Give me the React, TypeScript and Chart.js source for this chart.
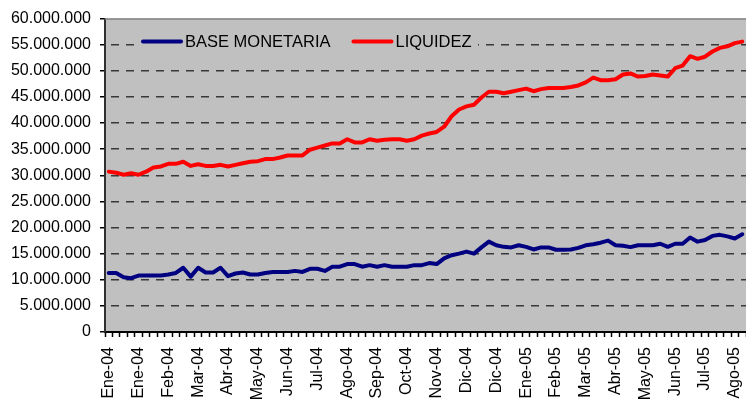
import React, { useEffect, useRef } from "react";
import { Chart, registerables } from "chart.js";

Chart.register(...registerables);

const monthLabels = [
  "Ene-04", "Ene-04", "Feb-04", "Mar-04", "Abr-04", "May-04", "Jun-04", "Jul-04",
  "Ago-04", "Sep-04", "Oct-04", "Nov-04", "Dic-04", "Dic-04", "Ene-05", "Feb-05",
  "Mar-05", "Abr-05", "May-05", "Jun-05", "Jul-05", "Ago-05",
];

const baseMonetaria = [
  11300000, 11300000, 10500000, 10300000, 10800000, 10800000, 10800000, 10800000,
  11000000, 11300000, 12300000, 10600000, 12300000, 11400000, 11400000, 12300000,
  10700000, 11200000, 11400000, 11000000, 11000000, 11300000, 11500000, 11500000,
  11500000, 11700000, 11500000, 12100000, 12100000, 11700000, 12500000, 12500000,
  13000000, 13000000, 12500000, 12800000, 12500000, 12800000, 12500000, 12500000,
  12500000, 12800000, 12800000, 13200000, 13000000, 14100000, 14700000, 15000000,
  15400000, 15000000, 16200000, 17300000, 16600000, 16300000, 16200000, 16600000,
  16300000, 15800000, 16200000, 16200000, 15750000, 15750000, 15800000, 16100000,
  16600000, 16800000, 17100000, 17500000, 16600000, 16500000, 16250000, 16600000,
  16600000, 16600000, 16900000, 16300000, 16900000, 16900000, 18100000, 17300000,
  17600000, 18400000, 18600000, 18300000, 17900000, 18700000,
];

const liquidez = [
  30700000, 30500000, 30100000, 30400000, 30100000, 30700000, 31500000, 31700000,
  32200000, 32200000, 32600000, 31800000, 32100000, 31800000, 31800000, 32000000,
  31700000, 32000000, 32300000, 32600000, 32700000, 33100000, 33100000, 33400000,
  33800000, 33800000, 33800000, 34900000, 35300000, 35700000, 36100000, 36100000,
  36900000, 36300000, 36300000, 36900000, 36600000, 36800000, 36900000, 36900000,
  36600000, 36900000, 37600000, 38000000, 38300000, 39300000, 41300000, 42600000,
  43200000, 43500000, 44900000, 46000000, 46000000, 45700000, 46000000, 46300000,
  46600000, 46100000, 46500000, 46700000, 46700000, 46700000, 46900000, 47200000,
  47800000, 48700000, 48200000, 48200000, 48400000, 49300000, 49500000, 48900000,
  49000000, 49300000, 49100000, 48900000, 50500000, 51000000, 52800000, 52300000,
  52700000, 53700000, 54400000, 54700000, 55300000, 55600000,
];

const weeksPerLabel = 4;
const yMin = 0;
const yMax = 60000000;
const yStep = 5000000;

const FONT = "'Liberation Sans', Arial, sans-serif";

function formatThousands(v: number): string {
  return Math.round(v).toString().replace(/\B(?=(\d{3})+(?!\d))/g, ".");
}

const plotBgPlugin = {
  id: "plotBg",
  beforeDraw(chart: any) {
    const { ctx, chartArea } = chart;
    ctx.save();
    ctx.fillStyle = "#C0C0C0";
    ctx.fillRect(chartArea.left, chartArea.top, chartArea.right - chartArea.left, chartArea.bottom - chartArea.top);
    ctx.restore();
  },
  afterDraw(chart: any) {
    const { ctx, chartArea } = chart;
    ctx.save();
    ctx.strokeStyle = "#808080";
    ctx.lineWidth = 1.5;
    ctx.beginPath();
    ctx.moveTo(chartArea.left, chartArea.top + 0.5);
    ctx.lineTo(chartArea.right, chartArea.top + 0.5);
    ctx.stroke();
    ctx.restore();
  },
};

const innerLegendPlugin = {
  id: "innerLegend",
  afterDatasetsDraw(chart: any) {
    const { ctx, chartArea } = chart;
    const y = chartArea.top + 23;
    ctx.save();
    ctx.fillStyle = "#C0C0C0";
    ctx.fillRect(chartArea.left + 30, y - 11, 343, 22);
    ctx.font = "16.5px " + FONT;
    ctx.textBaseline = "middle";
    let x = chartArea.left + 38;
    chart.data.datasets.forEach((ds: any) => {
      ctx.strokeStyle = ds.borderColor;
      ctx.lineWidth = 4;
      ctx.lineCap = "round";
      ctx.beginPath();
      ctx.moveTo(x, y);
      ctx.lineTo(x + 38, y);
      ctx.stroke();
      ctx.fillStyle = "#000";
      ctx.fillText(ds.label, x + 42, y + 1);
      const w = ctx.measureText(ds.label).width;
      x = x + 42 + w + 23;
    });
    ctx.restore();
  },
};

export default function App() {
  const canvasRef = useRef<HTMLCanvasElement | null>(null);

  useEffect(() => {
    const canvas = canvasRef.current;
    if (!canvas) return;
    const categories = baseMonetaria.map((_, i) =>
      i % weeksPerLabel === 0 ? monthLabels[i / weeksPerLabel] ?? "" : ""
    );
    const chart = new Chart(canvas, {
      type: "line",
      data: {
        labels: categories,
        datasets: [
          {
            label: "BASE MONETARIA",
            data: baseMonetaria,
            borderColor: "#000080",
            backgroundColor: "#000080",
            borderWidth: 4,
            pointRadius: 0,
            tension: 0,
            borderJoinStyle: "round",
            borderCapStyle: "round",
          },
          {
            label: "LIQUIDEZ",
            data: liquidez,
            borderColor: "#FF0000",
            backgroundColor: "#FF0000",
            borderWidth: 4,
            pointRadius: 0,
            tension: 0,
            borderJoinStyle: "round",
            borderCapStyle: "round",
          },
        ],
      },
      options: {
        animation: false,
        responsive: false,
        maintainAspectRatio: false,
        layout: { padding: { left: 0, top: 17, right: 0, bottom: 0 } },
        plugins: {
          legend: { display: false },
          tooltip: { enabled: false },
        },
        scales: {
          x: {
            type: "category",
            offset: true,
            grid: {
              offset: true,
              drawOnChartArea: false,
              drawTicks: true,
              tickLength: 5,
              tickColor: "#000",
              tickWidth: 1.5,
            },
            border: { display: true, color: "#000", width: 2 },
            ticks: {
              autoSkip: false,
              maxRotation: 90,
              minRotation: 90,
              padding: 10,
              color: "#000",
              font: { family: FONT, size: 16 },
            },
            afterFit(scale: any) {
              scale.height = 69;
              scale.paddingLeft = 0;
              scale.paddingRight = 0;
            },
          },
          y: {
            min: yMin,
            max: yMax,
            grid: {
              color: (c: any) => (c.tick && c.tick.value === yMax ? "rgba(0,0,0,0)" : "#383838"),
              lineWidth: 1.5,
              drawTicks: true,
              tickLength: 5,
              tickColor: "#000",
              tickWidth: 1.5,
            },
            border: { display: true, color: "#303030", width: 2, dash: [8, 7], dashOffset: 10 },
            ticks: {
              stepSize: yStep,
              padding: 9,
              color: "#000",
              font: { family: FONT, size: 16 },
              callback: (v: any) => formatThousands(Number(v)),
            },
            afterFit(scale: any) {
              scale.width = 105;
            },
          },
        },
      },
      plugins: [plotBgPlugin, innerLegendPlugin],
    });
    return () => chart.destroy();
  }, []);

  return (
    <div style={{ position: "fixed", left: 0, top: 0, width: 746, height: 401, background: "#fff" }}>
      <canvas ref={canvasRef} width={746} height={401} style={{ display: "block" }} />
    </div>
  );
}
